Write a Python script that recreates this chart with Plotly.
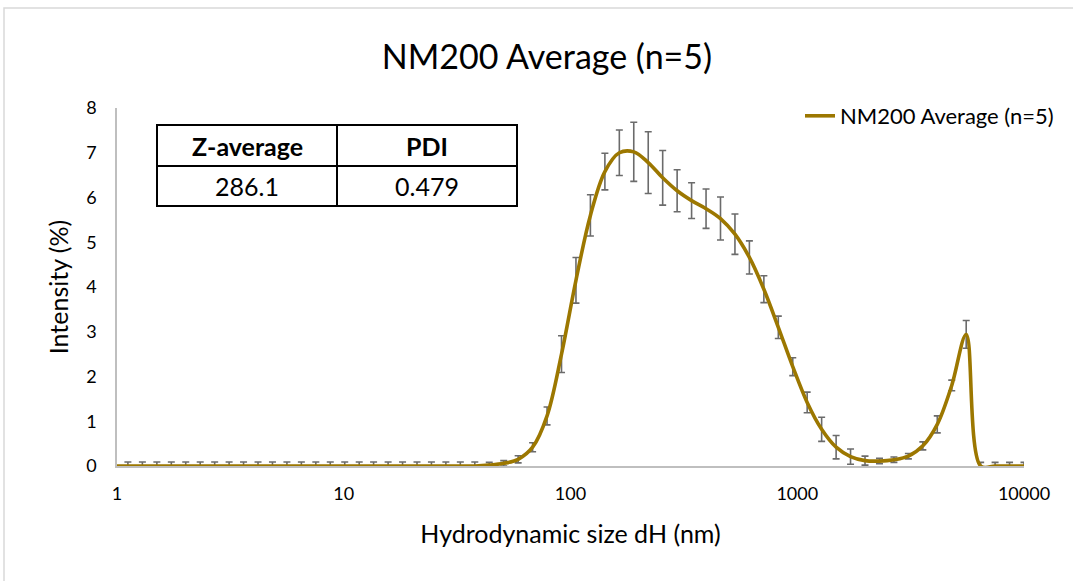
import plotly.graph_objects as go

# ---- data (Malvern size bins, nm) ----
size_nm = [0.4, 0.4632, 0.5365, 0.6213, 0.7195, 0.8332, 0.9649, 1.117, 1.294, 1.499,
           1.736, 2.010, 2.328, 2.696, 3.122, 3.615, 4.187, 4.849, 5.615, 6.503,
           7.531, 8.721, 10.10, 11.70, 13.54, 15.69, 18.17, 21.04, 24.36, 28.21,
           32.67, 37.84, 43.82, 50.75, 58.77, 68.06, 78.82, 91.28, 105.7, 122.4,
           141.8, 164.2, 190.1, 220.2, 255.0, 295.3, 342.0, 396.1, 458.7, 531.2,
           615.1, 712.4, 825.0, 955.4, 1106, 1281, 1484, 1718, 1990, 2305,
           2669, 3091, 3580, 4145, 4801, 5560, 6439, 7456, 8635, 10000]

intensity = [0, 0, 0, 0, 0, 0, 0, 0, 0, 0,
             0, 0, 0, 0, 0, 0, 0, 0, 0, 0,
             0, 0, 0, 0, 0, 0, 0, 0, 0, 0,
             0, 0, 0.02, 0.06, 0.15, 0.42, 1.12, 2.50, 4.15, 5.60,
             6.58, 7.00, 7.02, 6.78, 6.44, 6.15, 5.93, 5.75, 5.53, 5.18,
             4.66, 3.95, 3.10, 2.22, 1.42, 0.82, 0.42, 0.21, 0.12, 0.11,
             0.14, 0.22, 0.45, 0.93, 1.80, 2.94, 0, 0, 0, 0]

std_dev = [0.09, 0.09, 0.09, 0.09, 0.09, 0.09, 0.09, 0.09, 0.09, 0.09,
           0.09, 0.09, 0.09, 0.09, 0.09, 0.09, 0.09, 0.09, 0.09, 0.09,
           0.09, 0.09, 0.09, 0.09, 0.09, 0.09, 0.09, 0.09, 0.09, 0.09,
           0.09, 0.09, 0.06, 0.06, 0.08, 0.10, 0.20, 0.41, 0.51, 0.46,
           0.41, 0.51, 0.66, 0.69, 0.61, 0.47, 0.40, 0.44, 0.48, 0.45,
           0.37, 0.30, 0.25, 0.20, 0.23, 0.27, 0.26, 0.17, 0.10, 0.06,
           0.06, 0.06, 0.09, 0.19, 0.12, 0.31, 0.08, 0.08, 0.08, 0.08]

x_tick_vals = [1, 10, 100, 1000, 10000]
x_tick_text = ["1", "10", "100", "1000", "10000"]

table_header = ["Z-average", "PDI"]
table_values = ["286.1", "0.479"]

series_name = "NM200 Average (n=5)"
title_text = "NM200 Average (n=5)"

# ---- layout geometry ----
W, H = 1073, 581
L, R, T, B = 117, 49, 108, 115
PW, PH = W - L - R, H - T - B

def px(xp):
    return (xp - L) / PW

def py(yp):
    return (H - B - yp) / PH

FONT = "Lato, Calibri, Carlito, sans-serif"
LINE_COLOR = "#9C7700"

fig = go.Figure()

# error bars (drawn under the line)
fig.add_trace(go.Scatter(
    x=size_nm, y=intensity, mode="markers",
    marker=dict(size=1, opacity=0),
    error_y=dict(type="data", array=std_dev, visible=True,
                 color="#6b6b6b", thickness=1.6, width=3.5),
    showlegend=False, hoverinfo="skip"))

# smoothed line
fig.add_trace(go.Scatter(
    x=size_nm, y=intensity, mode="lines", name=series_name,
    line=dict(color=LINE_COLOR, width=3.6, shape="spline", smoothing=1.0)))

shapes = []
# outer chart frame (only top/left visible in the crop)
shapes.append(dict(type="rect", xref="paper", yref="paper",
                   x0=px(4), x1=px(1100), y0=py(620), y1=py(8),
                   line=dict(color="#D9D9D9", width=1.5), layer="below"))
# table
tx0, tx1, txm = px(157), px(517), px(337)
ty0, ty1, tym = py(206), py(125), py(166)
shapes.append(dict(type="rect", xref="paper", yref="paper",
                   x0=tx0, x1=tx1, y0=ty0, y1=ty1,
                   line=dict(color="black", width=2)))
shapes.append(dict(type="line", xref="paper", yref="paper",
                   x0=tx0, x1=tx1, y0=tym, y1=tym,
                   line=dict(color="black", width=2)))
shapes.append(dict(type="line", xref="paper", yref="paper",
                   x0=txm, x1=txm, y0=ty0, y1=ty1,
                   line=dict(color="black", width=2)))

annotations = []
col_centers = [px(247), px(427)]
for i in range(2):
    annotations.append(dict(xref="paper", yref="paper", x=col_centers[i], y=py(146),
                            text="<b>" + table_header[i] + "</b>", showarrow=False,
                            xanchor="center", yanchor="middle",
                            font=dict(family=FONT, size=25, color="black")))
    annotations.append(dict(xref="paper", yref="paper", x=col_centers[i], y=py(186),
                            text=table_values[i], showarrow=False,
                            xanchor="center", yanchor="middle",
                            font=dict(family=FONT, size=25, color="black")))

fig.update_layout(
    width=W, height=H,
    margin=dict(l=L, r=R, t=T, b=B),
    paper_bgcolor="white", plot_bgcolor="white",
    font=dict(family=FONT, size=18, color="black"),
    title=dict(text=title_text, x=547 / W, xanchor="center",
               y=1 - 57 / H, yanchor="middle",
               font=dict(family=FONT, size=34, color="black")),
    legend=dict(x=px(800), y=py(116), xanchor="left", yanchor="middle",
                bgcolor="rgba(0,0,0,0)", font=dict(family=FONT, size=22, color="black")),
    shapes=shapes, annotations=annotations,
    xaxis=dict(type="log", range=[0, 4], tickvals=x_tick_vals, ticktext=x_tick_text,
               showgrid=False, zeroline=False, showline=True, linecolor="#BFBFBF",
               linewidth=1.5, ticks="outside", ticklen=11, tickcolor="rgba(0,0,0,0)",
               tickfont=dict(family=FONT, size=18, color="black"),
               title=dict(text="Hydrodynamic size dH (nm)", standoff=22,
                          font=dict(family=FONT, size=25, color="black"))),
    yaxis=dict(range=[0, 8], dtick=1, showgrid=False, zeroline=False,
               showline=True, linecolor="#BFBFBF", linewidth=1.5,
               ticks="outside", ticklen=15, tickcolor="rgba(0,0,0,0)",
               tickfont=dict(family=FONT, size=18, color="black"),
               title=dict(text="Intensity (%)", standoff=10,
                          font=dict(family=FONT, size=25, color="black"))),
)

fig.write_html("out.html",
               config={"displayModeBar": False},
               post_script="document.body.style.margin='0';document.body.style.overflow='hidden';")
